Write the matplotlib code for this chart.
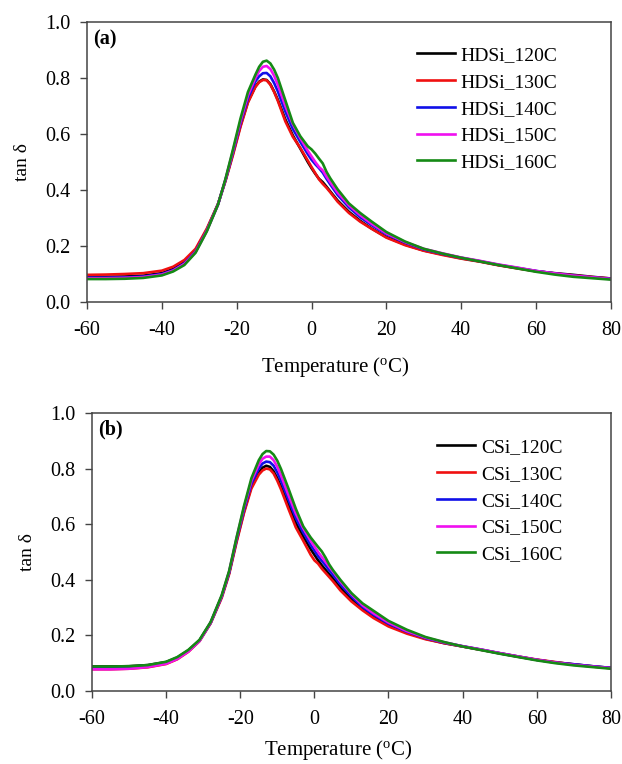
import matplotlib
matplotlib.use("Agg")
import matplotlib.pyplot as plt

plt.rcParams['font.family'] = ['Liberation Serif', 'DejaVu Serif']
plt.rcParams['mathtext.fontset'] = 'custom'
plt.rcParams['mathtext.rm'] = 'Liberation Serif'
plt.rcParams['mathtext.it'] = 'Liberation Serif:italic'

temperature = [-60, -55, -50, -45, -40, -37, -34, -31, -28, -25, -23, -21, -19, -17, -15, -14,
               -13, -12, -11, -10, -9, -7, -5, -3, -1, 0, 1, 2, 3, 4, 5, 7, 10, 13, 16, 20,
               25, 30, 35, 40, 45, 50, 55, 60, 65, 70, 75, 80]

labels_a = ['HDSi_120C', 'HDSi_130C', 'HDSi_140C', 'HDSi_150C', 'HDSi_160C']
labels_b = ['CSi_120C', 'CSi_130C', 'CSi_140C', 'CSi_150C', 'CSi_160C']
colors = ['#000000', '#f01010', '#1010e8', '#f010f0', '#158a15']

hdsi_120 = [0.090, 0.090, 0.091, 0.094, 0.103, 0.118, 0.143, 0.185, 0.258, 0.350, 0.435, 0.530, 0.630, 0.715, 0.770, 0.787,
            0.795, 0.793, 0.778, 0.752, 0.722, 0.652, 0.595, 0.548, 0.500, 0.478, 0.458, 0.440, 0.428, 0.412, 0.395, 0.362, 0.322, 0.290, 0.263, 0.232,
            0.205, 0.184, 0.170, 0.156, 0.145, 0.132, 0.121, 0.110, 0.103, 0.097, 0.090, 0.084]
hdsi_130 = [0.097, 0.098, 0.100, 0.103, 0.112, 0.126, 0.150, 0.190, 0.262, 0.350, 0.432, 0.525, 0.625, 0.712, 0.768, 0.785,
            0.793, 0.792, 0.776, 0.750, 0.718, 0.645, 0.590, 0.550, 0.505, 0.482, 0.460, 0.438, 0.422, 0.408, 0.392, 0.358, 0.318, 0.287, 0.262, 0.230,
            0.203, 0.183, 0.168, 0.155, 0.144, 0.131, 0.120, 0.110, 0.102, 0.095, 0.089, 0.084]
hdsi_140 = [0.087, 0.087, 0.088, 0.091, 0.100, 0.114, 0.138, 0.180, 0.255, 0.348, 0.436, 0.535, 0.638, 0.728, 0.788, 0.806,
            0.817, 0.818, 0.806, 0.782, 0.752, 0.680, 0.618, 0.572, 0.528, 0.508, 0.492, 0.478, 0.462, 0.440, 0.420, 0.382, 0.338, 0.303, 0.275, 0.242,
            0.212, 0.188, 0.172, 0.158, 0.146, 0.133, 0.122, 0.111, 0.102, 0.094, 0.088, 0.083]
hdsi_150 = [0.085, 0.085, 0.086, 0.089, 0.098, 0.112, 0.136, 0.178, 0.254, 0.348, 0.438, 0.540, 0.645, 0.738, 0.800, 0.825,
            0.840, 0.843, 0.832, 0.808, 0.776, 0.700, 0.635, 0.585, 0.540, 0.520, 0.500, 0.482, 0.470, 0.448, 0.428, 0.390, 0.345, 0.310, 0.280, 0.245,
            0.214, 0.190, 0.174, 0.159, 0.147, 0.134, 0.123, 0.111, 0.102, 0.094, 0.088, 0.082]
hdsi_160 = [0.082, 0.082, 0.083, 0.086, 0.095, 0.109, 0.132, 0.176, 0.252, 0.348, 0.440, 0.545, 0.655, 0.750, 0.812, 0.840,
            0.858, 0.862, 0.852, 0.830, 0.800, 0.720, 0.640, 0.592, 0.556, 0.545, 0.530, 0.512, 0.495, 0.465, 0.442, 0.402, 0.352, 0.318, 0.288, 0.250,
            0.216, 0.190, 0.173, 0.158, 0.145, 0.132, 0.120, 0.108, 0.098, 0.090, 0.085, 0.080]

csi_120 = [0.088, 0.088, 0.089, 0.093, 0.104, 0.120, 0.146, 0.182, 0.245, 0.340, 0.425, 0.540, 0.645, 0.735, 0.785, 0.803,
           0.810, 0.806, 0.790, 0.765, 0.735, 0.670, 0.605, 0.555, 0.510, 0.490, 0.470, 0.452, 0.436, 0.420, 0.405, 0.372, 0.330, 0.295, 0.268, 0.238,
           0.210, 0.188, 0.172, 0.160, 0.148, 0.135, 0.123, 0.112, 0.103, 0.096, 0.089, 0.083]
csi_130 = [0.078, 0.078, 0.080, 0.085, 0.097, 0.114, 0.141, 0.179, 0.243, 0.335, 0.420, 0.535, 0.640, 0.728, 0.778, 0.793,
           0.800, 0.797, 0.782, 0.756, 0.725, 0.655, 0.588, 0.540, 0.490, 0.470, 0.458, 0.440, 0.425, 0.410, 0.395, 0.362, 0.322, 0.290, 0.262, 0.232,
           0.206, 0.186, 0.172, 0.160, 0.148, 0.136, 0.124, 0.113, 0.104, 0.095, 0.088, 0.082]
csi_140 = [0.085, 0.085, 0.087, 0.091, 0.102, 0.118, 0.144, 0.181, 0.245, 0.340, 0.426, 0.545, 0.652, 0.745, 0.800, 0.818,
           0.825, 0.823, 0.810, 0.786, 0.756, 0.688, 0.622, 0.570, 0.525, 0.505, 0.485, 0.468, 0.452, 0.434, 0.418, 0.384, 0.340, 0.302, 0.274, 0.242,
           0.213, 0.190, 0.174, 0.161, 0.149, 0.136, 0.124, 0.112, 0.102, 0.096, 0.089, 0.083]
csi_150 = [0.078, 0.078, 0.080, 0.086, 0.098, 0.115, 0.142, 0.180, 0.246, 0.342, 0.430, 0.550, 0.660, 0.755, 0.815, 0.835,
           0.843, 0.843, 0.830, 0.806, 0.775, 0.705, 0.638, 0.585, 0.540, 0.520, 0.500, 0.482, 0.465, 0.447, 0.430, 0.394, 0.348, 0.308, 0.279, 0.246,
           0.215, 0.192, 0.175, 0.161, 0.149, 0.136, 0.124, 0.112, 0.102, 0.094, 0.088, 0.082]
csi_160 = [0.088, 0.088, 0.089, 0.093, 0.105, 0.122, 0.148, 0.184, 0.248, 0.345, 0.432, 0.552, 0.665, 0.765, 0.830, 0.852,
           0.863, 0.862, 0.850, 0.828, 0.798, 0.728, 0.655, 0.592, 0.552, 0.535, 0.518, 0.502, 0.480, 0.455, 0.435, 0.400, 0.352, 0.315, 0.288, 0.252,
           0.220, 0.194, 0.176, 0.160, 0.147, 0.134, 0.122, 0.110, 0.100, 0.092, 0.086, 0.080]

series_a = [hdsi_120, hdsi_130, hdsi_140, hdsi_150, hdsi_160]
series_b = [csi_120, csi_130, csi_140, csi_150, csi_160]

x_ticks = [-60, -40, -20, 0, 20, 40, 60, 80]
y_ticks = [0.0, 0.2, 0.4, 0.6, 0.8, 1.0]

fig = plt.figure(figsize=(6.22, 7.64), dpi=100)
ax_a = fig.add_axes([0.140, 0.6047, 0.842, 0.3665])
ax_b = fig.add_axes([0.148, 0.0956, 0.834, 0.3639])

spine_col = '#444444'
for ax, series, labels, tag, leg_anchor, xl_y in [
        (ax_a, series_a, labels_a, '(a)', (0.63, 0.912), -0.19),
        (ax_b, series_b, labels_b, '(b)', (0.665, 0.908), -0.168)]:
    for vals, col, lab in zip(series, colors, labels):
        ax.plot(temperature, vals, color=col, lw=1.9, label=lab, solid_joinstyle='round')
    ax.set_xlim(-60, 80)
    ax.set_ylim(0, 1.0)
    ax.set_xticks(x_ticks)
    ax.set_xticklabels([str(t) for t in x_ticks])
    ax.set_yticks(y_ticks)
    ax.set_yticklabels([f'{t:.1f}' for t in y_ticks])
    for s in ax.spines.values():
        s.set_color(spine_col)
        s.set_linewidth(1.1)
    ax.tick_params(direction='out', length=5, width=1.0, color=spine_col,
                   labelsize=14.5, top=False, right=False, pad=7)
    ax.tick_params(axis='x', pad=9)
    ax.set_xlabel('Temperature ($^{\\mathrm{o}}$C)', fontsize=15, labelpad=11)
    ax.xaxis.set_label_coords(0.475, xl_y)
    ax.set_ylabel('tan δ', fontsize=14, labelpad=10)
    ax.text(0.012, 0.975, tag, transform=ax.transAxes, fontsize=14.5,
            fontweight='bold', va='top', ha='left')
    ax.legend(loc='upper left', bbox_to_anchor=leg_anchor, frameon=False,
              fontsize=14, handlelength=1.95, handletextpad=0.3,
              labelspacing=0.47, borderaxespad=0, borderpad=0)

fig.savefig('out.png', dpi=100)
